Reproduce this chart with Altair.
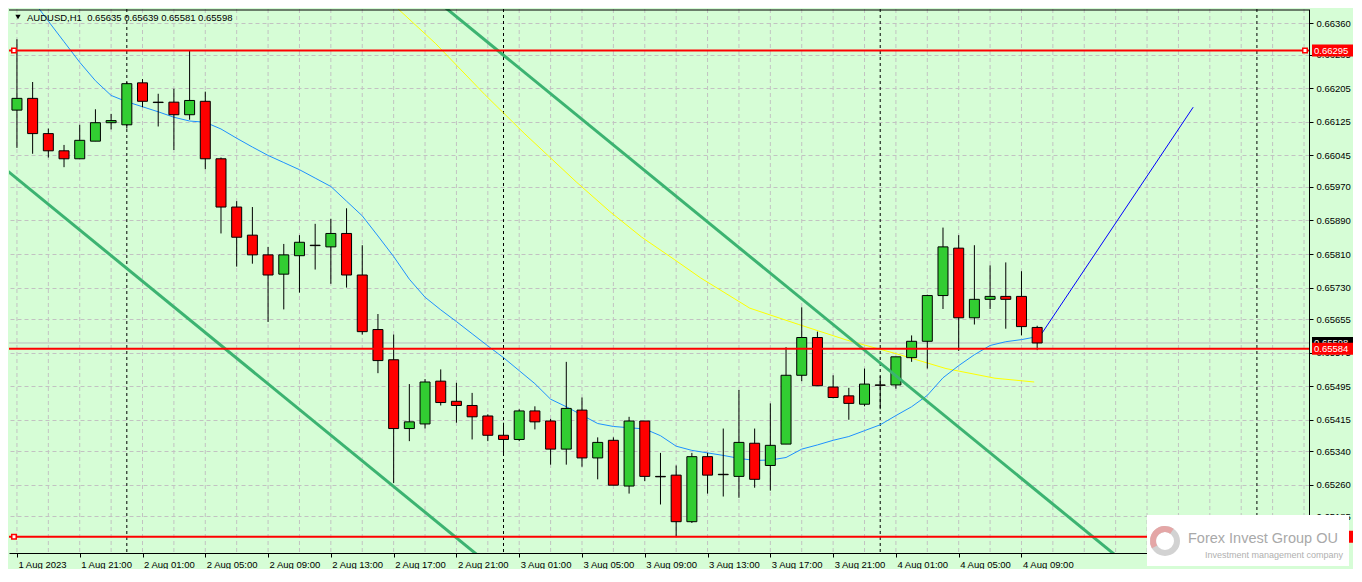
import json
import altair as alt
import pandas as pd

W, H = 1300, 544
BG = "#D6FDD6"
FONT = "Liberation Sans"

# ---- data: AUDUSD H1, bar index 0 = 1 Aug 2023 17:00 (one bar per hour) ----
opens = [0.66153, 0.66181, 0.66097, 0.66056, 0.66037, 0.66079, 0.66123, 0.66118, 0.66218, 0.66172,
         0.66172, 0.66142, 0.66174, 0.66037, 0.65922, 0.65855, 0.65808, 0.65762, 0.65806, 0.65831,
         0.65827, 0.65859, 0.65760, 0.65630, 0.65558, 0.65394, 0.65405, 0.65507, 0.65459, 0.65449,
         0.65424, 0.65378, 0.65368, 0.65436, 0.65412, 0.65345, 0.65438, 0.65324, 0.65366, 0.65257,
         0.65412, 0.65280, 0.65283, 0.65172, 0.65327, 0.65285, 0.65280, 0.65359, 0.65306, 0.65357,
         0.65521, 0.65611, 0.65493, 0.65472, 0.65452, 0.65498, 0.65498, 0.65563, 0.65602, 0.65711,
         0.65824, 0.65658, 0.65702, 0.65709, 0.65709, 0.65635]
highs = [0.66322, 0.66220, 0.66109, 0.66070, 0.66118, 0.66155, 0.66144, 0.66220, 0.66227, 0.66192,
         0.66204, 0.66295, 0.66197, 0.66040, 0.65936, 0.65922, 0.65827, 0.65834, 0.65855, 0.65882,
         0.65894, 0.65919, 0.65831, 0.65667, 0.65618, 0.65500, 0.65512, 0.65535, 0.65503, 0.65479,
         0.65428, 0.65408, 0.65440, 0.65447, 0.65417, 0.65553, 0.65468, 0.65373, 0.65373, 0.65422,
         0.65412, 0.65336, 0.65306, 0.65336, 0.65336, 0.65394, 0.65486, 0.65394, 0.65454, 0.65588,
         0.65683, 0.65625, 0.65521, 0.65491, 0.65537, 0.65519, 0.65565, 0.65616, 0.65713, 0.65873,
         0.65855, 0.65831, 0.65783, 0.65790, 0.65769, 0.65639]
lows = [0.66063, 0.66049, 0.66040, 0.66017, 0.66037, 0.66079, 0.66107, 0.66109, 0.66160, 0.66114,
        0.66058, 0.66130, 0.66012, 0.65859, 0.65780, 0.65787, 0.65648, 0.65678, 0.65718, 0.65773,
        0.65739, 0.65730, 0.65618, 0.65526, 0.65264, 0.65364, 0.65394, 0.65449, 0.65408, 0.65368,
        0.65364, 0.65334, 0.65364, 0.65392, 0.65308, 0.65308, 0.65303, 0.65273, 0.65259, 0.65239,
        0.65269, 0.65213, 0.65136, 0.65169, 0.65239, 0.65232, 0.65229, 0.65253, 0.65246, 0.65357,
        0.65507, 0.65496, 0.65466, 0.65415, 0.65447, 0.65440, 0.65489, 0.65553, 0.65537, 0.65679,
        0.65579, 0.65642, 0.65679, 0.65632, 0.65616, 0.65581]
closes = [0.66181, 0.66097, 0.66056, 0.66037, 0.66081, 0.66123, 0.66128, 0.66216, 0.66174, 0.66171,
          0.66142, 0.66176, 0.66037, 0.65922, 0.65850, 0.65808, 0.65760, 0.65808, 0.65838, 0.65830,
          0.65859, 0.65760, 0.65625, 0.65556, 0.65394, 0.65410, 0.65505, 0.65456, 0.65449, 0.65422,
          0.65378, 0.65368, 0.65436, 0.65410, 0.65345, 0.65442, 0.65324, 0.65361, 0.65259, 0.65412,
          0.65280, 0.65279, 0.65172, 0.65327, 0.65283, 0.65284, 0.65361, 0.65273, 0.65354, 0.65521,
          0.65611, 0.65496, 0.65468, 0.65454, 0.65500, 0.65497, 0.65565, 0.65602, 0.65711, 0.65827,
          0.65658, 0.65702, 0.65709, 0.65702, 0.65637, 0.65598]

# fast moving average (blue), one value per bar
ma_fast = [0.66463, 0.66415, 0.66365, 0.66316, 0.66267, 0.66223, 0.66188, 0.66173, 0.66161, 0.66149,
           0.66136, 0.66127, 0.66124, 0.66108, 0.66086, 0.66065, 0.66045, 0.66028, 0.66011, 0.65991,
           0.65971, 0.65936, 0.65901, 0.65853, 0.65804, 0.65750, 0.65707, 0.65677, 0.65649, 0.65620,
           0.65591, 0.65563, 0.65532, 0.65501, 0.65464, 0.65446, 0.65426, 0.65406, 0.65399, 0.65396,
           0.65393, 0.65377, 0.65352, 0.65342, 0.65336, 0.65330, 0.65323, 0.65318, 0.65319, 0.65325,
           0.65345, 0.65355, 0.65366, 0.65375, 0.65389, 0.65403, 0.65425, 0.65446, 0.65473, 0.65515,
           0.65544, 0.65570, 0.65592, 0.65601, 0.65606, 0.65613]

# slow moving average (yellow)
slow_idx = [23.56, 24.29, 26.69, 29.81, 32.31, 35.63, 37.75, 39.81, 41.88, 43.56, 46.69, 49.81,
            52.94, 56.06, 59.19, 62.31, 64.81]
slow_val = [0.66422, 0.66394, 0.66311, 0.66190, 0.66098, 0.65982, 0.65912, 0.65850, 0.65797,
            0.65753, 0.65681, 0.65642, 0.65604, 0.65572, 0.65537, 0.65514, 0.65505]

# projection line (dark blue)
proj_idx = [65.3, 74.94]
proj_val = [0.65621, 0.66160]

# channel trend lines (green)
chan1_idx = [-1.1875, 31.06]
chan1_val = [0.66026, 0.65040]
chan2_idx = [26.06, 71.69]
chan2_val = [0.66435, 0.65040]

red_levels = [0.66295, 0.65584, 0.65136]
red_labels = ["0.66295", "0.65584", "0.65136"]
bid_level = [0.65598]
bid_label = ["0.65598"]
day_separators = [7, 31, 55, 79]
grid_x = list(range(0, 83, 2))

x_tick_idx = list(range(0, 65, 4))
x_tick_labels = ["1 Aug 2023", "1 Aug 21:00", "2 Aug 01:00", "2 Aug 05:00", "2 Aug 09:00",
                 "2 Aug 13:00", "2 Aug 17:00", "2 Aug 21:00", "3 Aug 01:00", "3 Aug 05:00",
                 "3 Aug 09:00", "3 Aug 13:00", "3 Aug 17:00", "3 Aug 21:00", "4 Aug 01:00",
                 "4 Aug 05:00", "4 Aug 09:00"]
y_ticks = [0.66360, 0.66285, 0.66205, 0.66125, 0.66045, 0.65970, 0.65890, 0.65810, 0.65730,
           0.65655, 0.65575, 0.65495, 0.65415, 0.65340, 0.65260, 0.65185]

header = "AUDUSD,H1\u00a0 0.65635 0.65639 0.65581 0.65598"
logo_title = "Forex Invest Group OU"
logo_sub = "Investment management company"

X_DOMAIN = [-0.1875, 82.0]
Y_DOMAIN = [0.650974, 0.66394]

# ---- tables ----
n = len(opens)
candles = pd.DataFrame({
    "idx": list(range(n)), "o": opens, "h": highs, "l": lows, "c": closes,
})
candles["dir"] = ["up" if c >= o else "down" for o, c in zip(opens, closes)]
ma_df = pd.DataFrame({"idx": list(range(n)), "v": ma_fast})
slow_df = pd.DataFrame({"idx": slow_idx, "v": slow_val})
proj_df = pd.DataFrame({"idx": proj_idx, "v": proj_val})
chan_df = pd.DataFrame({
    "idx": chan1_idx + chan2_idx, "v": chan1_val + chan2_val,
    "line": ["a", "a", "b", "b"],
})
red_df = pd.DataFrame({"p": red_levels, "label": red_labels})
bid_df = pd.DataFrame({"p": bid_level, "label": bid_label})
sep_df = pd.DataFrame({"idx": day_separators})
gridx_df = pd.DataFrame({"idx": grid_x})
one = pd.DataFrame({"k": [0]})

x_label_expr = json.dumps(x_tick_labels) + "[round(datum.value / 4)]"

AX_X = alt.Axis(values=x_tick_idx, labelExpr=x_label_expr, grid=False, domain=True,
                domainColor="black", domainWidth=1, ticks=True, tickColor="black", tickSize=4,
                labelAlign="left", labelBaseline="top", labelPadding=2, labelOffset=1,
                labelFont=FONT, labelFontSize=9.5, labelColor="black", labelOverlap=False,
                labelFlush=False, title=None)
AX_Y = alt.Axis(orient="right", values=y_ticks, labelExpr="format(datum.value, '.5f')",
                grid=True, gridColor="#C2C2C2", gridDash=[4, 3], gridWidth=1,
                domain=True, domainColor="black", domainWidth=1, ticks=True, tickColor="black",
                tickSize=4, labelPadding=3, labelFont=FONT, labelFontSize=9.5,
                labelColor="black", labelOverlap=False, labelFlush=False, title=None)
XS = alt.Scale(domain=X_DOMAIN, nice=False, zero=False)
YS = alt.Scale(domain=Y_DOMAIN, nice=False, zero=False)


def X(f):
    return alt.X(f, type="quantitative", scale=XS, axis=AX_X)


def Y(f):
    return alt.Y(f, type="quantitative", scale=YS, axis=AX_Y)


base_grid = alt.Chart(gridx_df).mark_rule(color="#C2C2C2", strokeDash=[4, 3], strokeWidth=1).encode(
    x=X("idx"))
seps = alt.Chart(sep_df).mark_rule(color="black", strokeDash=[3, 3], strokeWidth=1).encode(
    x=X("idx"))
bid_line = alt.Chart(bid_df).mark_rule(color="#BDBDBD", strokeWidth=1).encode(y=Y("p"))

ma_line = alt.Chart(ma_df).mark_line(color="#1E90FF", strokeWidth=1, clip=True).encode(
    x=X("idx"), y=Y("v"))
slow_line = alt.Chart(slow_df).mark_line(color="#FFFF00", strokeWidth=1, clip=True).encode(
    x=X("idx"), y=Y("v"))
proj_line = alt.Chart(proj_df).mark_line(color="#0000FF", strokeWidth=1, clip=True).encode(
    x=X("idx"), y=Y("v"))

wicks = alt.Chart(candles).mark_rule(color="black", strokeWidth=1, clip=True).encode(
    x=X("idx"), y=Y("l"), y2="h")
bodies = alt.Chart(candles).mark_bar(size=10, stroke="black", strokeWidth=1, clip=True).encode(
    x=X("idx"), y=Y("o"), y2="c",
    color=alt.Color("dir:N", scale=alt.Scale(domain=["up", "down"], range=["#32CD32", "#FF0000"]),
                    legend=None))

chan_lines = alt.Chart(chan_df).mark_line(color="#3CB371", strokeWidth=3, clip=True).encode(
    x=X("idx"), y=Y("v"), detail="line:N")
red_lines = alt.Chart(red_df).mark_rule(color="#FF0000", strokeWidth=2).encode(y=Y("p"))
sq_left = alt.Chart(red_df.iloc[[0, 2]]).mark_point(
    shape="square", filled=True, fill="white", stroke="#FF0000", strokeWidth=1.5, size=20,
    opacity=1).encode(x=alt.value(5), y=Y("p"))
sq_right = alt.Chart(red_df.iloc[[0]]).mark_point(
    shape="square", filled=True, fill="white", stroke="#FF0000", strokeWidth=1.5, size=20,
    opacity=1).encode(x=alt.value(W - 4), y=Y("p"))

top_border = alt.Chart(one).mark_rule(color="black", strokeWidth=1).encode(
    x=alt.value(0), x2=alt.value(W), y=alt.value(1))

tri = alt.Chart(one).mark_point(shape="triangle-down", filled=True, color="black", size=28,
                                opacity=1).encode(x=alt.value(9), y=alt.value(8))
head = alt.Chart(one).mark_text(align="left", baseline="middle", font=FONT, fontSize=9.5,
                                color="black", text=header).encode(x=alt.value(18), y=alt.value(9))

bid_tag = alt.Chart(bid_df).mark_rect(color="black", yOffset=-6, y2Offset=6).encode(
    x=alt.value(W + 3), x2=alt.value(W + 44), y=Y("p"), y2="p")
bid_txt = alt.Chart(bid_df).mark_text(align="left", baseline="middle", font=FONT, fontSize=9.5,
                                      color="white").encode(
    x=alt.value(W + 5), y=Y("p"), text="label:N")
red_tag = alt.Chart(red_df).mark_rect(color="#FF0000", yOffset=-6, y2Offset=6).encode(
    x=alt.value(W + 3), x2=alt.value(W + 44), y=Y("p"), y2="p")
red_txt = alt.Chart(red_df).mark_text(align="left", baseline="middle", font=FONT, fontSize=9.5,
                                      color="white").encode(
    x=alt.value(W + 5), y=Y("p"), text="label:N")

logo_box = alt.Chart(one).mark_rect(color="white").encode(
    x=alt.value(W - 162), x2=alt.value(W + 40), y=alt.value(H - 38), y2=alt.value(H + 13))
logo_ring = alt.Chart(one).mark_arc(radius=15, radius2=9, theta=0, theta2=6.2832,
                                    color="#D2D2D2").encode(
    x=alt.value(W - 144), y=alt.value(H - 12))
logo_arc = alt.Chart(one).mark_arc(radius=15, radius2=9, theta=4.2, theta2=6.9,
                                   color="#E4A6A6").encode(
    x=alt.value(W - 144), y=alt.value(H - 12))
logo_t1 = alt.Chart(one).mark_text(align="left", baseline="alphabetic", font=FONT,
                                   fontSize=14.5, color="#A9A9A9", text=logo_title).encode(
    x=alt.value(W - 121), y=alt.value(H - 10))
logo_t2 = alt.Chart(one).mark_text(align="left", baseline="alphabetic", font=FONT, fontSize=9,
                                   color="#B0B0B0", text=logo_sub).encode(
    x=alt.value(W - 104), y=alt.value(H + 5))

chart = alt.layer(
    base_grid, seps, bid_line, slow_line, ma_line, proj_line,
    wicks, bodies, chan_lines, red_lines, sq_left, sq_right, top_border,
    tri, head, bid_tag, bid_txt, red_tag, red_txt,
    logo_box, logo_ring, logo_arc, logo_t1, logo_t2,
).properties(
    width=W, height=H, background=BG, padding=0,
).configure_view(stroke=None, fill=BG)

chart.save("out.html", embed_options={"renderer": "svg", "actions": False})
